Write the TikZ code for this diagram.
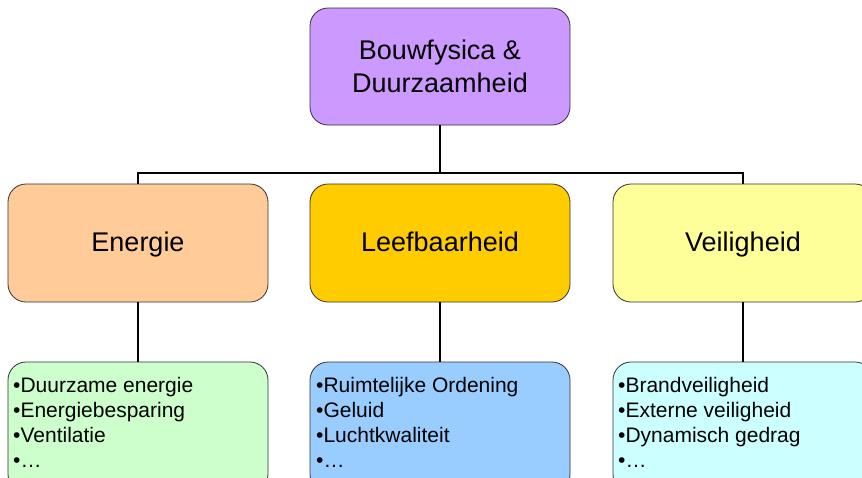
\documentclass[tikz,border=0pt]{standalone}
\usepackage{fontspec}
\setmainfont{Liberation Sans}
\definecolor{topc}{HTML}{CC99FF}
\definecolor{enc}{HTML}{FFCC99}
\definecolor{lefc}{HTML}{FFCC00}
\definecolor{veic}{HTML}{FFFF99}
\definecolor{l1c}{HTML}{CCFFCC}
\definecolor{l2c}{HTML}{99CCFF}
\definecolor{l3c}{HTML}{CCFFFF}
\begin{document}
\begin{tikzpicture}[x=1pt,y=-1pt]
\tikzset{
  box/.style={draw=black!80, line width=0.8pt, rounded corners=18pt, minimum width=260pt,
    inner sep=0pt, font=\fontsize{27}{33}\selectfont, align=center},
  midbox/.style={box, minimum height=118pt, text height=21pt, text depth=4pt},
  listbox/.style={box, minimum height=130pt},
  listtext/.style={inner sep=0pt, anchor=north west, align=left, font=\fontsize{21}{25}\selectfont},
  conn/.style={line width=2.7pt, line join=miter}
}
\useasboundingbox (0,0) rectangle (862,477);
\node[box, fill=topc, minimum height=117pt] (top) at (440,66.5) {Bouwfysica \&\\Duurzaamheid};
\node[midbox, fill=enc] (en) at (138,243) {Energie};
\node[midbox, fill=lefc] (le) at (440,243) {Leefbaarheid};
\node[midbox, fill=veic] (ve) at (743,243) {Veiligheid};
\node[listbox, fill=l1c] (l1) at (138,427) {};
\node[listbox, fill=l2c] (l2) at (440,427) {};
\node[listbox, fill=l3c] (l3) at (743,427) {};
\coordinate (bus) at (440,173);
\draw[conn] (top.south) -- (bus);
\draw[conn] (en.north) |- (bus) -| (ve.north);
\draw[conn] (en.south) -- (l1.north);
\draw[conn] (le.south) -- (l2.north);
\draw[conn] (ve.south) -- (l3.north);
\node[listtext] (t1) at (13,377) {•Duurzame energie\\•Energiebesparing\\•Ventilatie\\•…};
\node[listtext] (t2) at (316,377) {•Ruimtelijke Ordening\\•Geluid\\•Luchtkwaliteit\\•…};
\node[listtext] (t3) at (618,377) {•Brandveiligheid\\•Externe veiligheid\\•Dynamisch gedrag\\•…};
\end{tikzpicture}
\end{document}
